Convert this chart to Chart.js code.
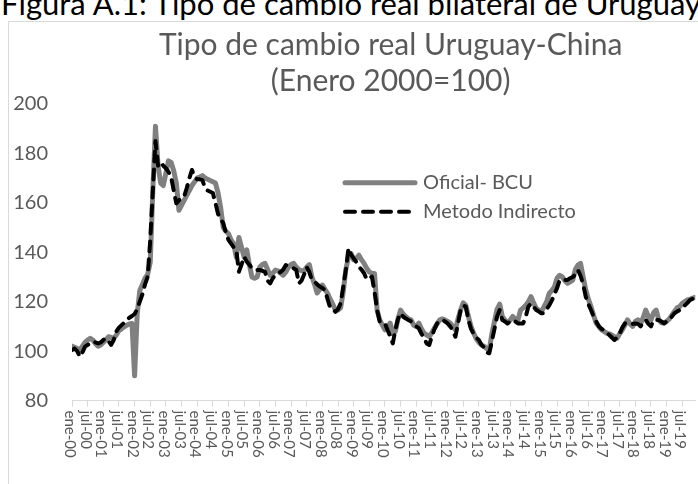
<!DOCTYPE html>
<html><head><meta charset="utf-8">
<script src="https://cdn.jsdelivr.net/npm/chart.js@4.4.1/dist/chart.umd.min.js"></script>
<style>
html,body{margin:0;padding:0;background:#fff;width:698px;height:484px;overflow:hidden;position:relative}
#heading{position:absolute;left:1px;top:-12px;font-family:Lato;font-size:31px;line-height:31px;white-space:nowrap;color:#000}
#frame{position:absolute;left:8px;top:21px;width:800px;height:600px;border-left:1px solid #d9d9d9;border-top:1px solid #d9d9d9}
canvas{position:absolute;left:0;top:0}
</style></head><body>
<div id="heading">Figura A.1: Tipo de cambio real bilateral de Uruguay</div>
<div id="frame"></div>
<canvas id="c" width="698" height="484"></canvas>
<script>
const titleLines = ["Tipo de cambio real Uruguay-China", "(Enero 2000=100)"];
const seriesNames = ["Oficial- BCU", "Metodo Indirecto"];
const tickLabels = ["ene-00","jul-00","ene-01","jul-01","ene-02","jul-02","ene-03","jul-03","ene-04","jul-04",
  "ene-05","jul-05","ene-06","jul-06","ene-07","jul-07","ene-08","jul-08","ene-09","jul-09",
  "ene-10","jul-10","ene-11","jul-11","ene-12","jul-12","ene-13","jul-13","ene-14","jul-14",
  "ene-15","jul-15","ene-16","jul-16","ene-17","jul-17","ene-18","jul-18","ene-19","jul-19"];
const yTicks = [80, 100, 120, 140, 160, 180, 200];

// monthly values, Jan 2000 .. Dec 2019
const oficialBCU = [
  102,101.5,101,100.5,102,103.5,104.5,105.2,104.5,103,102,102.5,
  103.5,104.5,105.8,105.5,105.2,106.5,108.3,109,109.8,110.5,111,111.2,
  90,115,124.5,127,129.5,131,136,165,191,175,168,167,
  172,177,176.4,173,168,157,159,161,163,165,167,168.5,
  170,170.5,171,170,169.5,169,168.5,168,164,158,150,148.5,
  147.5,145,143.5,138,146,142,138,141,135,130,129.5,130,
  134,135,135.5,133,130.7,131.5,132.8,132.5,131.5,130.7,132,134,
  135,135.5,134,133,132.5,132.5,134,135,130,127,123.5,125,
  126.7,125,123.4,121,119,116.6,116.6,117.5,124,133,138,139.5,
  137,137.5,138.8,137,135.5,133.5,132,131.5,131.4,116.6,112.6,110.5,
  108.6,110,111.3,107,108,113,116.6,115,113.9,113,112.6,110.5,
  110,111.3,109,107.3,106.5,105.9,107.5,109.3,111,112.6,113,112.6,
  112,111.3,110,108.6,113,116.6,119.5,118.5,114,110,107.3,105,
  103.5,102.5,102,101,100.5,107,112,117,119,114,112.5,111.3,
  112.5,114,113,112.6,116.6,117.5,118.5,120,122,119.5,117.3,116.5,
  116,118,120,123.4,124.5,126,129.5,130.7,130,128.5,127.4,128,
  128.7,133,134.8,135.5,130,124.7,121,118,114.5,111.3,110,108.6,
  108,107.3,107,106.5,105.8,105.2,107,108.6,110.5,112.6,111,110,
  112,112.6,111,113.5,116.6,114,112.6,115.5,116.6,112.6,111.5,111.3,
  112,113,114.5,116,117.5,118,119.3,120,120.7,121,121.4,121.8
];
const metodoIndirecto = [
  100.4,101,100,97.7,99.5,101.8,102.5,103,103.8,103.5,103.1,103.5,
  104.5,105.2,104,102.5,104.5,108,109.5,110.5,111.5,112.6,113.5,114.2,
  115,117,120,123,127,130,145,165,185,175,176.6,175,
  174,172.5,170.5,165,159.8,161,162,162.5,166,170,173.3,170.5,
  169.5,169.5,169.2,166,165,164.5,164,160,155.5,153.5,151.7,148,
  145,143.5,142,140.9,132.1,135,138.2,136.2,135,133.5,133,132.8,
  132.8,132.5,132.1,128.5,127.4,129.5,130.8,131.5,132,133,134.8,134.5,
  134.1,133.5,132.8,127.4,128.5,131,134,132,128.8,128.1,127,126.1,
  125.5,124.7,121,117.5,117,115.9,117,119.3,126,132.8,141.6,139,
  137.5,136,134.1,133,131.5,129,129.5,130.1,124,116.6,112,111.2,
  111.2,108.5,106,103.1,108.5,113,115.3,113.9,113.2,112.6,112,111.2,
  110,109.2,107,105.2,103.1,102.5,106,109,111.2,112,112.6,112,
  111.2,110,108.5,105.8,111,116.6,118.5,118,112.6,109,107,105.5,
  104.5,102.5,101.5,99.5,99.1,104,109,114,116.6,112.6,112,111.2,
  112,112.6,112,111.2,111.2,111.2,114,118,119.3,118,116.6,116,
  115.3,115.3,117,118.5,120.5,123,125.5,128.8,128.8,128.8,128.8,129.5,
  130,131,132.8,130.5,127,122,119,116.6,114,112,110,109,
  108.5,107.5,106.5,105.5,104.5,105.5,107.2,109.5,111.2,111.5,111.2,111,
  111.2,111,110,111.5,112.6,111,110,112.6,112.6,112.6,112,111.2,
  112,112.6,114,115.3,116,116.6,118,118.5,119.5,120.7,121.2,121.5
];

const FONT = 'Lato';
const TEXT = '#595959';

const titleShift = {
  id: 'titleShift',
  afterLayout(chart) {
    const t = chart.titleBlock;
    if (t) { t.left += 7; t.right += 7; }
  }
};

const xLabelsPlugin = {
  id: 'xLabelsDown',
  afterDraw(chart) {
    const s = chart.scales.x, c = chart.ctx;
    c.save();
    c.font = '15px ' + FONT;
    c.fillStyle = TEXT;
    c.textAlign = 'left';
    c.textBaseline = 'middle';
    tickLabels.forEach((t, k) => {
      const x = s.getPixelForValue(k * 6);
      c.save();
      c.translate(x - 2, s.top + 10);
      c.rotate(Math.PI / 2);
      c.fillText(t, 0, 0);
      c.restore();
    });
    c.restore();
  }
};

const legendPlugin = {
  id: 'legendInPlot',
  afterDraw(chart) {
    const c = chart.ctx;
    const items = [
      {name: seriesNames[0], color: '#808080', width: 5, dash: []},
      {name: seriesNames[1], color: '#000000', width: 4, dash: [10, 8]}
    ];
    const x0 = 345, x1 = 415, ys = [182.7, 211.7];
    c.save();
    items.forEach((it, k) => {
      c.beginPath();
      c.setLineDash(it.dash);
      c.lineCap = 'round';
      c.lineWidth = it.width;
      c.strokeStyle = it.color;
      c.moveTo(x0, ys[k]);
      c.lineTo(x1, ys[k]);
      c.stroke();
      c.setLineDash([]);
      c.font = '20px ' + FONT;
      c.fillStyle = TEXT;
      c.textAlign = 'left';
      c.textBaseline = 'middle';
      c.fillText(it.name, 423, ys[k]);
    });
    c.restore();
  }
};

new Chart(document.getElementById('c'), {
  type: 'line',
  data: {
    datasets: [
      {label: seriesNames[1], data: metodoIndirecto.map((v, i) => ({x: i, y: v})),
       borderColor: '#000000', borderWidth: 4, borderDash: [10, 8], borderCapStyle: 'round',
       borderJoinStyle: 'round', pointRadius: 0, tension: 0, order: 0, fill: false},
      {label: seriesNames[0], data: oficialBCU.map((v, i) => ({x: i, y: v})),
       borderColor: '#808080', borderWidth: 5, borderCapStyle: 'round',
       borderJoinStyle: 'round', pointRadius: 0, tension: 0, order: 1, fill: false}
    ]
  },
  options: {
    responsive: false,
    animation: false,
    devicePixelRatio: 1,
    layout: {padding: {left: 0, right: 2.7, top: 0, bottom: 0}},
    plugins: {
      legend: {display: false},
      tooltip: {enabled: false},
      title: {
        display: true, text: titleLines, fullSize: false, color: TEXT,
        font: {family: FONT, size: 30, weight: 'normal', lineHeight: 1.2},
        padding: {top: 27, bottom: 5}
      }
    },
    scales: {
      x: {
        type: 'linear', min: 0, max: 239,
        grid: {drawOnChartArea: false, color: '#d9d9d9', tickLength: 6, lineWidth: 1},
        border: {color: '#d9d9d9', width: 1},
        ticks: {display: false},
        afterBuildTicks(s) { s.ticks = tickLabels.map((t, k) => ({value: k * 6})); },
        afterFit(s) { s.height = 484 - 400.5; }
      },
      y: {
        min: yTicks[0], max: yTicks[yTicks.length - 1],
        afterBuildTicks(s) { s.ticks = yTicks.map(v => ({value: v})); },
        ticks: {color: TEXT, font: {family: FONT, size: 20}, padding: 24},
        grid: {display: false, drawTicks: false},
        border: {display: false},
        afterFit(s) { s.width = 72; }
      }
    }
  },
  plugins: [titleShift, xLabelsPlugin, legendPlugin]
});
</script>
</body></html>
